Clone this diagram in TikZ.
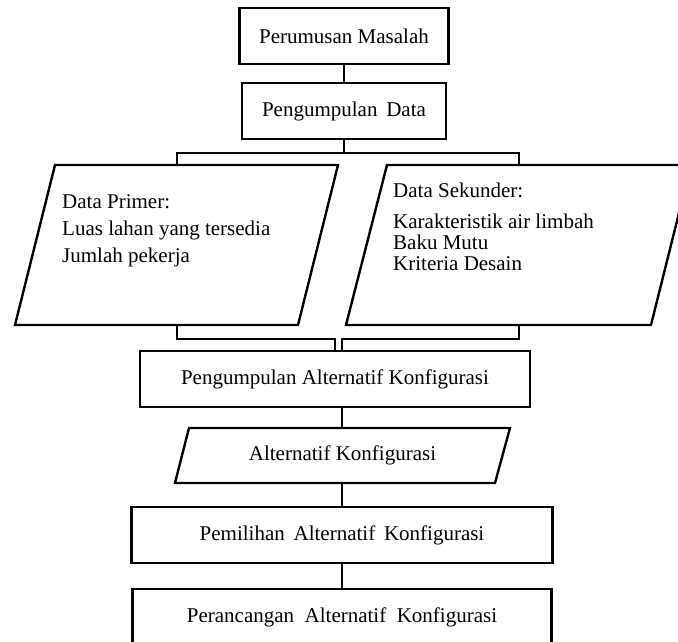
\documentclass[tikz,border=0pt]{standalone}
\usepackage{fontspec}
\setmainfont{Liberation Serif}
\usepackage{tikz}
\tikzset{
  fc_font/.style = {font=\fontsize{21}{25}\selectfont},
  fc_line/.style = {draw=black, line width=2.4pt},
  fc_box/.style = {fc_line, fc_font, rectangle, inner sep=0pt,
    minimum height=56pt},% kotak proses
  fc_io/.style = {fc_line, line join=miter},% jajaran genjang data
  fc_txt/.style = {fc_font, inner sep=0pt, anchor=base west}% isi data
}
\begin{document}
\begin{tikzpicture}[x=1pt,y=-1pt]
\useasboundingbox (0,0) rectangle (678,642);
\clip (0,0) rectangle (678,642);
\node [fc_box, minimum width=209pt] (masalah) at (344,36) {Perumusan Masalah};
\node [fc_box, minimum width=204pt] (data) at (344,111) {Pengumpulan\ \,Data};
% data primer dan sekunder
\draw [fc_io] (15,325) -- (55,165) -- (338,165) -- (298,325) -- cycle;
\draw [fc_io] (346,325) -- (387,165) -- (691,165) -- (651,325) -- cycle;
\coordinate (primer_n) at (177,165);
\coordinate (primer_s) at (177,325);
\coordinate (sekunder_n) at (519,165);
\coordinate (sekunder_s) at (519,325);
\node [fc_txt] (prim1) at (62,208) {Data Primer:};
\node [fc_txt] (prim2) at (62,235) {Luas lahan yang tersedia};
\node [fc_txt] (prim3) at (62,262) {Jumlah pekerja};
\node [fc_txt] (sek1) at (393,197) {Data Sekunder:};
\node [fc_txt] (sek2) at (393,228) {Karakteristik air limbah};
\node [fc_txt] (sek3) at (393,249) {Baku Mutu};
\node [fc_txt] (sek4) at (393,270) {Kriteria Desain};
% konfigurasi
\node [fc_box, minimum width=390pt] (pengalt) at (335,379) {Pengumpulan Alternatif Konfigurasi};
\draw [fc_io] (175,483) -- (189,428) -- (510,428) -- (495,483) -- cycle;
\coordinate (alt_n) at (342,428);
\coordinate (alt_s) at (342,483);
\node [fc_font, inner sep=0pt] (alt) at (342.5,455.5) {Alternatif Konfigurasi};
\node [fc_box, minimum width=421pt] (pilih) at (342,535) {Pemilihan\ \,Alternatif\ \,Konfigurasi};
\node [fc_box, minimum width=419pt] (rancang) at (342,617) {Perancangan~~Alternatif~~Konfigurasi};
\coordinate (bagi) at (344,153);
\draw [fc_line] (masalah) -- (data);
\draw [fc_line] (data.south) -- (bagi);
\draw [fc_line] (primer_n) |- (bagi) -| (sekunder_n);
\draw [fc_line] (primer_s) -- ++(0,14) -| (pengalt.north);
\draw [fc_line] (sekunder_s) -- ++(0,14) -| ([xshift=7pt]pengalt.north);
\draw [fc_line] ([xshift=7pt]pengalt.south) -- (alt_n);
\draw [fc_line] (alt_s) -- (pilih.north);
\draw [fc_line] (pilih.south) -- (rancang.north);
\end{tikzpicture}
\end{document}
